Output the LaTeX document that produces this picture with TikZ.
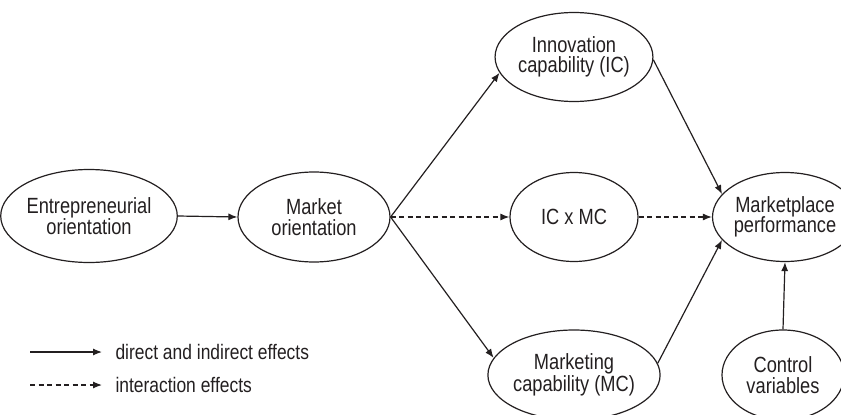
\documentclass[tikz,border=0pt]{standalone}
\usepackage{fontspec}
\setmainfont[FakeStretch=0.83]{Liberation Sans}
\usepackage{xcolor}
\usepackage{tikz}
\usetikzlibrary{arrows.meta,shapes.geometric}
\definecolor{ink}{HTML}{231F20}

\begin{document}
\begin{tikzpicture}[
  x=1pt, y=-1pt,
  every node/.style={text=ink},
  construct/.style={
    ellipse, draw=ink, line width=1.2pt, inner sep=0pt,
    align=center, font=\fontsize{22}{20.5}\selectfont
  },
  effect/.style={-{Latex[length=9pt,width=7pt]}, line width=1.2pt, draw=ink},
  interaction/.style={effect, dash pattern=on 5pt off 3.5pt},
  legendtext/.style={anchor=west, font=\fontsize{21}{20}\selectfont}
]

% ---------- Frame ----------
\useasboundingbox (0,0) rectangle (841,415);
\clip (0,0) rectangle (841,415);

% ---------- Constructs ----------
\node[construct, minimum width=154, minimum height=93] (EO) at (89,216)
  {Entrepreneurial\\orientation};
\node[construct, minimum width=152, minimum height=90] (MO) at (314,217)
  {Market\\orientation};
\node[construct, minimum width=128, minimum height=89] (IC) at (574,57)
  {Innovation\\capability (IC)};
\node[construct, minimum width=128, minimum height=89] (ICMC) at (574,217)
  {IC x MC};
\node[construct, minimum width=128, minimum height=90] (MC) at (574,375)
  {Marketing\\capability (MC)};
\node[construct, minimum width=124, minimum height=89] (MP) at (785,217)
  {Marketplace\\performance};
\node[construct, minimum width=122, minimum height=90] (CV) at (783,375)
  {Control\\variables};

% ---------- Effects ----------
\draw[effect] (EO.east) -- (MO.west);
\draw[effect] (MO.east) -- (IC.192);
\draw[effect] (MO.east) -- (MC.168);
\draw[interaction] (MO.east) -- (ICMC.west);
\draw[interaction] (ICMC.east) -- (MP.west);
\draw[effect] (IC.358) -- (MP.160);
\draw[effect] (MC.8) -- (MP.200);
\draw[effect] (CV.north) -- (MP.south);

% ---------- Legend ----------
\coordinate (solidA) at (30,352);
\coordinate (solidB) at (102,352);
\coordinate (dashA) at (30,385);
\coordinate (dashB) at (102,385);
\draw[effect] (solidA) -- (solidB);
\draw[interaction] (dashA) -- (dashB);
\node[legendtext] (legDirect) at (112,352) {direct and indirect effects};
\node[legendtext] (legInter) at (112,385) {interaction effects};

\end{tikzpicture}
\end{document}
